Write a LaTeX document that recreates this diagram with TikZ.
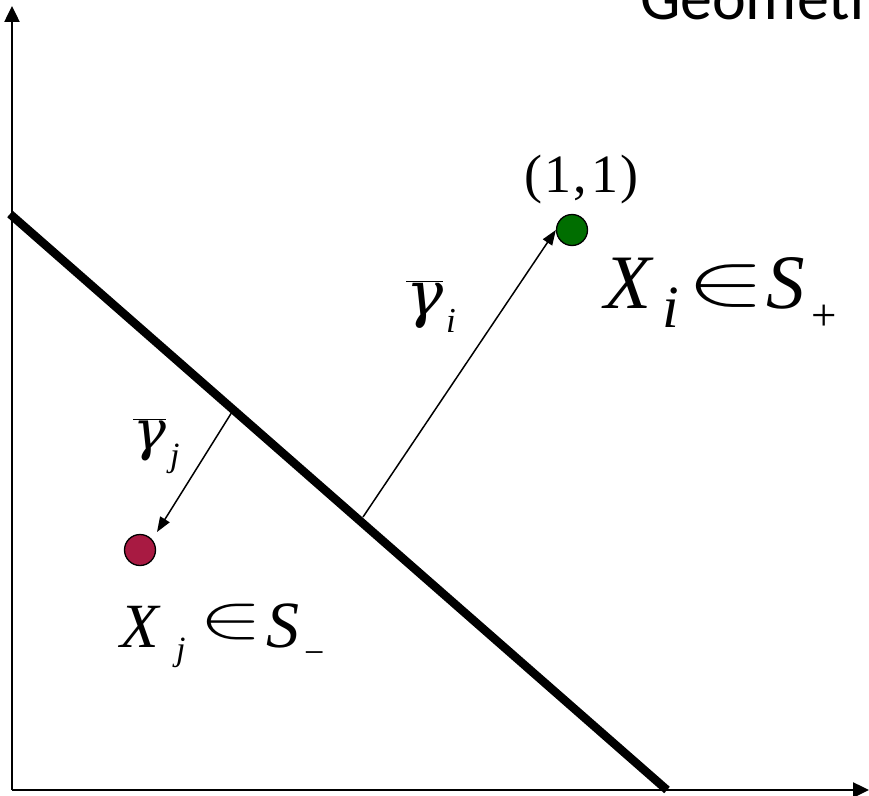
\documentclass[tikz,border=0pt]{standalone}
\usepackage{fontspec}
\usepackage{graphicx}
\setmainfont{Liberation Serif}
\newfontfamily\sansf{Carlito}
\newfontfamily\greekf{DejaVu Serif}
\usetikzlibrary{arrows.meta}
\newcommand{\fsz}[1]{\fontsize{#1bp}{#1bp}\selectfont}
\definecolor{dotgreen}{RGB}{0,110,0}
\definecolor{dotred}{RGB}{168,26,66}
\tikzset{
  lbl/.style={inner sep=0pt, outer sep=0pt, anchor=base west},
  axis/.style={line width=2.5bp, -{Triangle[length=16bp,width=15bp]}},
  sep/.style={line width=8.5bp},
  marg/.style={line width=1.5bp, -{Triangle[length=15bp,width=11bp]}},
  dot/.style={circle, draw=black, line width=1.3bp, minimum size=31bp, inner sep=0pt},
}
\begin{document}
\begin{tikzpicture}[x=1bp,y=-1bp]
\useasboundingbox (0,0) rectangle (869,796);
\clip (0,0) rectangle (869,796);
\fill[white] (0,0) rectangle (869,796);
% axes
\coordinate (o) at (12,790);
\coordinate (ytop) at (12,6);
\coordinate (xend) at (869,790);
\draw[axis] (o) -- (ytop);
\draw[axis] (o) -- (xend);
% separating line
\coordinate (la) at (10,214);
\coordinate (lb) at (667,790);
\draw[sep] (la) -- (lb);
% points
\node[dot, fill=dotgreen] (pi) at (572,230) {};
\node[dot, fill=dotred] (pj) at (140,550) {};
% margin arrows
\coordinate (fi) at (363,517);
\coordinate (fj) at (232,412);
\coordinate (tj) at (157,532);
\draw[marg] (fi) -- (pi.west);
\draw[marg] (fj) -- (tj);
% title (clipped)
\node[lbl] (title) at (640,20) {\sansf\fsz{64}Geometr};
% (1,1)
\node[inner sep=0pt, anchor=base] (c11) at (581.5,192) {\fsz{54}(\kern2bp 1\kern2bp,\kern4bp 1\kern2bp)};
% gamma_i
\node[lbl] (gi) at (406,315) {\fsz{62}$\overline{\hbox{\greekf\itshape γ}}$};
\node[lbl] (gis) at (446,332) {\fsz{35}\itshape i};
% gamma_j
\node[lbl] (gj) at (133,449) {\fsz{55}$\overline{\hbox{\greekf\itshape γ}}$};
\node[lbl] (gjs) at (170,466) {\fsz{34}\itshape j};
% X_i in S_+
\node[lbl] (xi) at (604,308) {\fsz{77}\itshape X};
\node[lbl] (xis) at (662,327) {\fsz{60}\itshape i};
\node[inner sep=0pt] (ini) at (726.5,286.5) {\scalebox{11.9}[7.4]{$\in$}};
\node[lbl] (si) at (766,308) {\fsz{77}\itshape S};
\node[lbl] (sis) at (811,330) {\fsz{45}+};
% X_j in S_-
\node[lbl] (xj) at (120,647) {\fsz{63}\itshape X};
\node[lbl] (xjs) at (176,660) {\fsz{34}\itshape j};
\node[inner sep=0pt] (inj) at (231,622) {\scalebox{9.5}[6.2]{$\in$}};
\node[lbl] (sj) at (266,647) {\fsz{66}\itshape S};
\node[lbl] (sjs) at (304,664) {\fsz{36}−};
\end{tikzpicture}
\end{document}
